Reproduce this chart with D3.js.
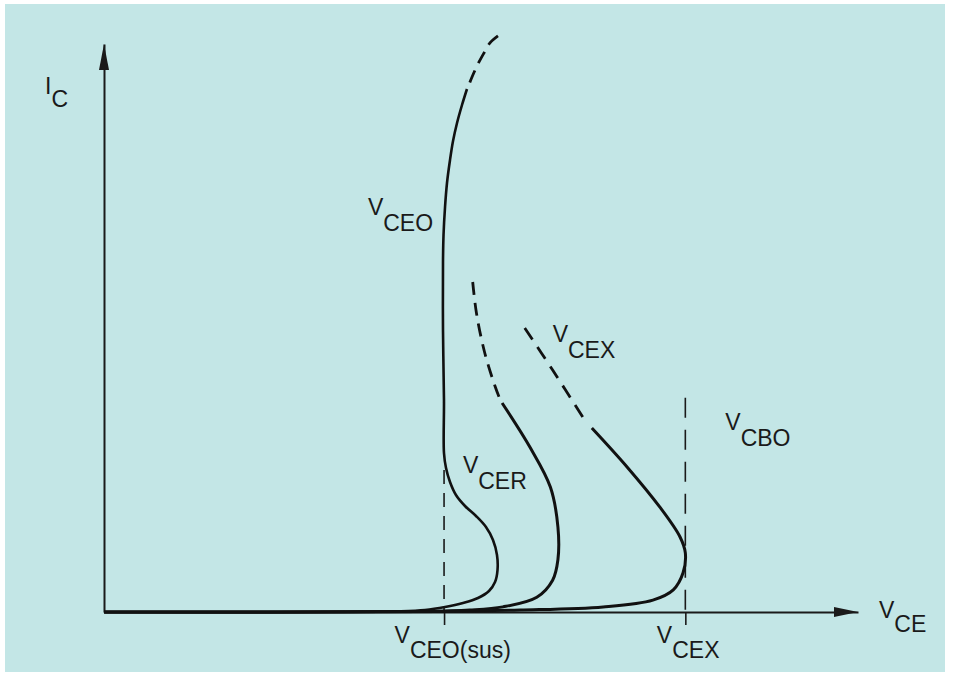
<!DOCTYPE html>
<html><head><meta charset="utf-8">
<script src="https://cdn.jsdelivr.net/npm/d3@7"></script>
<style>
html,body{margin:0;padding:0;background:#ffffff;}
svg{display:block;}
text{font-family:"Liberation Sans",Arial,Helvetica,sans-serif;fill:#1a1a1a;}
</style>
</head><body>
<svg id="chart" width="953" height="679"></svg>
<script>
// ---------------- data (V_CE, I_C in arbitrary units) ----------------
const vceoDashed = [[52.25,101.41],[51.19,100.18],[50.40,98.42],[49.60,96.48],[48.81,94.19],[48.28,92.43]];
const vceoSolid  = [[48.14,92.08],[47.48,89.26],[46.82,86.09],[46.29,82.92],[45.89,79.58],[45.49,75.53],[45.23,71.30],
                    [45.03,66.37],[44.96,61.62],[44.96,49.6],[45.09,37.3],[45.09,27.99],[45.36,25.35],[45.89,22.89],
                    [46.68,20.60],[47.88,18.66],[49.34,16.90],[50.66,14.96],[51.59,12.68],[52.12,10.04],[52.19,7.39],
                    [51.86,5.28],[51.06,3.70],[49.60,2.46],[47.61,1.58],[45.23,0.88],[42.57,0.35],[39.26,0.12],[29.97,0],[0,0]];
const vcerDashed = [[48.9,58.1],[49.4,52.6],[50.5,45.6],[51.9,39.6],[52.5,37.5]];
const vcerSolid  = [[52.8,36.8],[56.5,29.0],[59.2,22.0],[60.2,15.0],[60.2,9.2],[59.5,5.6],[57.4,2.6],[52.9,0.9],[48.5,0.35],[41.9,0.1],[0,0]];
const vcexDashed = [[55.8,50.0],[59.5,42.6],[63.5,34.3]];
const vcexSolid  = [[64.7,32.4],[69.4,25.5],[73.7,18.5],[76.4,13.2],[77.1,10.4],[76.8,6.9],[75.5,3.9],[72.8,2.1],[66.2,0.9],[55.2,0.35],[44.6,0.1],[0,0]];
const markerValues = [45.1, 77.1];          // V_CEO(sus), V_CEX
const markerTops   = [25.0, 37.7];          // top of the dashed guide lines (I_C)
const xTickLabels  = [["V","CEO(sus)"],["V","CEX"]];
const curveLabels  = [["V","CEO"],["V","CER"],["V","CEX"],["V","CBO"]];
const curveLabelAt = [[35.0,69.9],[47.6,24.5],[59.5,47.5],[82.4,32.0]];
const xAxisLabel   = ["V","CE"];
const yAxisLabel   = ["I","C"];

// ---------------- layout ----------------
const svg = d3.select("#chart");
svg.append("rect").attr("x",5).attr("y",4).attr("width",940).attr("height",668).attr("fill","#c3e6e6");

const x = d3.scaleLinear().domain([0,100]).range([104,858]);
const y = d3.scaleLinear().domain([0,100]).range([612,44]);
const FS = 23, SUB = 16;
const tickLabelOffset = [-50, -29];

function subText(g, parts, px, py, anchor, subDy) {
  const t = g.append("text").attr("x",px).attr("y",py).attr("font-size",FS).attr("text-anchor",anchor||"start");
  t.append("tspan").text(parts[0]);
  t.append("tspan").attr("dy", subDy==null?SUB:subDy).text(parts[1]);
  return t;
}

// guide dashed lines
markerValues.forEach((v,k)=>{
  svg.append("line").attr("x1",x(v)).attr("x2",x(v)).attr("y1",y(markerTops[k])).attr("y2",y(0))
    .attr("stroke","#1a1a1a").attr("stroke-width",1.6).attr("stroke-dasharray", k===0?"14,9":"20,12");
});

// axes
const xAxis = d3.axisBottom(x).tickValues(markerValues).tickSize(13).tickSizeOuter(0).tickFormat("");
const gx = svg.append("g").attr("transform",`translate(0,${y(0)})`).call(xAxis);
gx.select(".domain").attr("stroke","#1a1a1a").attr("stroke-width",2.2);
gx.selectAll(".tick line").attr("stroke","#1a1a1a").attr("stroke-width",1.6);
gx.selectAll(".tick").each(function(d,i){
  subText(d3.select(this), xTickLabels[i], tickLabelOffset[i], 31, "start", 15);
});
const yAxis = d3.axisLeft(y).tickValues([]).tickSizeOuter(0);
const gy = svg.append("g").attr("transform",`translate(${x(0)},0)`).call(yAxis);
gy.select(".domain").attr("stroke","#1a1a1a").attr("stroke-width",2);

// arrowheads
const x0 = x.range()[0], xEnd = x.range()[1], yTop = y.range()[1];
svg.append("path").attr("d",`M${xEnd},${y(0)} L${xEnd-24},${y(0)-5} L${xEnd-24},${y(0)+5} Z`).attr("fill","#1a1a1a");
svg.append("path").attr("d",`M${x0},${yTop} L${x0-5},${yTop+26} L${x0+5},${yTop+26} Z`).attr("fill","#1a1a1a");

// axis labels
subText(svg, xAxisLabel, xEnd+21, y(0)+6, "start", 14);
subText(svg, yAxisLabel, 45, 94, "start", 13);

// curves
const line = d3.line().x(d=>x(d[0])).y(d=>y(d[1])).curve(d3.curveCatmullRom.alpha(0.5));
function draw(data, dash, w) {
  svg.append("path").datum(data).attr("d",line).attr("fill","none").attr("stroke","#111")
    .attr("stroke-width",w).attr("stroke-linecap","butt").attr("stroke-linejoin","round")
    .attr("stroke-dasharray", dash);
}
draw(vceoDashed, "13,8", 2.8);
draw(vceoSolid, null, 2.6);
draw(vcerDashed, "13,8", 2.8);
draw(vcerSolid, null, 3);
draw(vcexDashed, "14,9", 2.8);
draw(vcexSolid, null, 3);

// curve labels
curveLabels.forEach((p,k)=>{
  subText(svg, p, x(curveLabelAt[k][0]), y(curveLabelAt[k][1]), "start", SUB);
});
</script>
</body></html>
